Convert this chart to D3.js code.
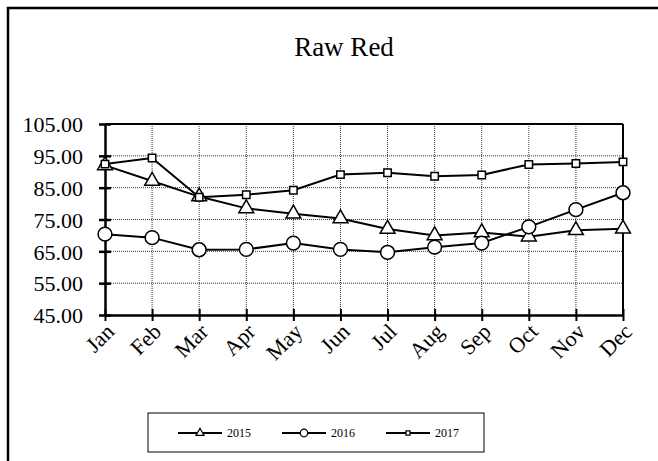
<!DOCTYPE html>
<html><head><meta charset="utf-8">
<script src="https://cdn.jsdelivr.net/npm/d3@7"></script>
<style>body{margin:0;background:#fff}svg{display:block}text{font-family:"Liberation Serif","Times New Roman",serif;fill:#000}</style>
</head><body><svg id="c" width="658" height="461"></svg>
<script>
const months = ["Jan","Feb","Mar","Apr","May","Jun","Jul","Aug","Sep","Oct","Nov","Dec"];
const s2015 = [92.0,87.1,82.2,78.5,76.8,75.3,72.0,70.0,70.9,69.6,71.6,72.1];
const s2016 = [70.4,69.3,65.5,65.6,67.6,65.6,64.7,66.3,67.6,72.7,78.1,83.4];
const s2017 = [92.4,94.3,82.0,82.8,84.2,89.1,89.7,88.6,89.0,92.3,92.6,93.1];
const yTicks = [45,55,65,75,85,95,105];
const seriesNames = ["2015","2016","2017"];
const title = "Raw Red";

const svg = d3.select("#c");
const L=105,R=623,T=124,B=315;
const x = d3.scalePoint().domain(months).range([L,R]).padding(0);
const y = d3.scaleLinear().domain([45,105]).range([B,T]);

// outer frame
svg.append("rect").attr("x",8).attr("y",8).attr("width",700).attr("height",500)
  .attr("fill","none").attr("stroke","#000").attr("stroke-width",2.5);

svg.append("text").attr("x",344).attr("y",56).attr("text-anchor","middle")
  .style("font-size","27px").text(title);

// grid
const g = svg.append("g");
g.selectAll(".hg").data(yTicks.slice(1,-1)).enter().append("line")
  .attr("x1",L).attr("x2",R).attr("y1",d=>y(d)).attr("y2",d=>y(d))
  .attr("stroke","#333").attr("stroke-width",1).attr("stroke-dasharray","1,1");
g.selectAll(".vg").data(months.slice(1,-1)).enter().append("line")
  .attr("x1",d=>x(d)).attr("x2",d=>x(d)).attr("y1",T).attr("y2",B)
  .attr("stroke","#333").attr("stroke-width",1).attr("stroke-dasharray","1,1");
// top & right border
svg.append("line").attr("x1",L).attr("x2",R).attr("y1",T).attr("y2",T).attr("stroke","#000").attr("stroke-width",2);
svg.append("line").attr("x1",R).attr("x2",R).attr("y1",T).attr("y2",B).attr("stroke","#000").attr("stroke-width",2);

// axes
const ya = svg.append("g").attr("transform",`translate(${L},0)`)
  .call(d3.axisLeft(y).tickValues(yTicks).tickFormat(d3.format(".2f")).tickSizeInner(6).tickSizeOuter(0).tickPadding(16));
ya.select(".domain").attr("stroke","#000").attr("stroke-width",2.5);
ya.selectAll(".tick line").attr("x2",6).attr("x1",-6).attr("stroke-width",2.5);
ya.selectAll(".tick text").style("font-size","22px").style("font-family","Liberation Serif, serif").attr("dy","0.35em");

const xa = svg.append("g").attr("transform",`translate(0,${B})`)
  .call(d3.axisBottom(x).tickSizeInner(6).tickSizeOuter(0));
xa.select(".domain").attr("stroke","#000").attr("stroke-width",2.5);
xa.selectAll(".tick line").attr("y1",-6).attr("y2",6).attr("stroke-width",2);
xa.selectAll(".tick text").style("font-size","22px").style("font-family","Liberation Serif, serif")
  .attr("text-anchor","end").attr("dy","0").attr("y",0)
  .attr("transform","translate(10,18) rotate(-45)");

const data = [s2015,s2016,s2017];
const shapes = [d3.symbolTriangle,d3.symbolCircle,d3.symbolSquare];
const sizes = [95,150,55];
const line = d3.line().x((d,i)=>x(months[i])).y(d=>y(d));
data.forEach((s,k)=>{
  svg.append("path").datum(s).attr("d",line).attr("fill","none").attr("stroke","#000").attr("stroke-width",2);
});
data.forEach((s,k)=>{
  svg.selectAll(".m"+k).data(s).enter().append("path")
    .attr("d",d3.symbol().type(shapes[k]).size(sizes[k]))
    .attr("transform",(d,i)=>`translate(${x(months[i])},${y(d)})`)
    .attr("fill","#fff").attr("stroke","#000").attr("stroke-width",1.5);
});

// legend
const lg = svg.append("g");
lg.append("rect").attr("x",148).attr("y",413).attr("width",336).attr("height",39)
  .attr("fill","#fff").attr("stroke","#000").attr("stroke-width",1);
const lx = [178,282,386];
seriesNames.forEach((n,k)=>{
  lg.append("line").attr("x1",lx[k]).attr("x2",lx[k]+44).attr("y1",433).attr("y2",433).attr("stroke","#000").attr("stroke-width",2);
  lg.append("path").attr("d",d3.symbol().type(shapes[k]).size(sizes[k]*0.3))
    .attr("transform",`translate(${lx[k]+22},433)`).attr("fill","#fff").attr("stroke","#000").attr("stroke-width",1.2);
  lg.append("text").attr("x",lx[k]+49).attr("y",437).style("font-size","12px").text(n);
});
</script></body></html>
